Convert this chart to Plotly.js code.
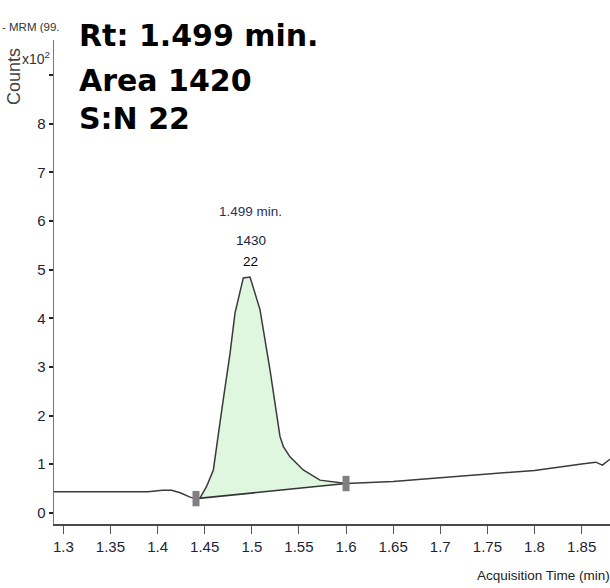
<!DOCTYPE html>
<html>
<head>
<meta charset="utf-8">
<script src="https://cdn.plot.ly/plotly-3.0.1.min.js"></script>
<style>html,body{margin:0;padding:0;background:#fff;}</style>
</head>
<body>
<div id="chart" style="width:610px;height:588px;"></div>
<script>
// Chromatogram: acquisition time (min) vs counts (x10^2)
const timeMin = [1.29, 1.30, 1.35, 1.39, 1.405, 1.415, 1.424, 1.4345, 1.4408, 1.445, 1.452, 1.4592, 1.4681, 1.4769, 1.4822, 1.4910, 1.4981, 1.5087, 1.5193, 1.5299, 1.5335, 1.5405, 1.5546, 1.5723, 1.60, 1.635, 1.65, 1.70, 1.75, 1.80, 1.85, 1.865, 1.872, 1.88];
const counts  = [0.43, 0.43, 0.43, 0.43, 0.46, 0.46, 0.41, 0.32, 0.29, 0.30, 0.54, 0.88, 2.11, 3.28, 4.11, 4.83, 4.85, 4.18, 2.94, 1.57, 1.36, 1.15, 0.88, 0.67, 0.60, 0.62, 0.64, 0.72, 0.79, 0.87, 1.00, 1.04, 0.98, 1.10];

// Integration baseline end points
const baseTime = [1.4408, 1.60];
const baseCounts = [0.29, 0.60];

// Peak labels
const peakRt = 1.499;
const peakLabels = ["1.499 min.", "1430", "22"];
const peakLabelY = [6.19, 5.61, 5.16];
const peakLabelColors = ["#1f3260", "#1a2238", "#000000"];

// Summary text
const summaryLines = ["Rt: 1.499 min.", "Area 1420", "S:N 22"];

// Axis ticks
const xTickVals = [1.3, 1.35, 1.4, 1.45, 1.5, 1.55, 1.6, 1.65, 1.7, 1.75, 1.8, 1.85];
const xTickText = ["1.3", "1.35", "1.4", "1.45", "1.5", "1.55", "1.6", "1.65", "1.7", "1.75", "1.8", "1.85"];
const yTickVals = [0, 1, 2, 3, 4, 5, 6, 7, 8];
const yTickText = ["0", "1", "2", "3", "4", "5", "6", "7", "8"];
const yUnlabelledTicks = [9];

const SANS = "Liberation Sans, Arial, sans-serif";

// Build peak fill polygon from the data between baseline end points
const fillX = [], fillY = [];
for (let i = 0; i < timeMin.length; i++) {
  if (timeMin[i] >= baseTime[0] - 1e-9 && timeMin[i] <= baseTime[1] + 1e-9) {
    fillX.push(timeMin[i]); fillY.push(counts[i]);
  }
}
fillX.push(baseTime[0]); fillY.push(baseCounts[0]);

const traces = [
  { x: fillX, y: fillY, type: 'scatter', mode: 'lines', fill: 'toself',
    fillcolor: '#dff7df', line: { width: 0 }, hoverinfo: 'skip', showlegend: false },
  { x: baseTime, y: baseCounts, type: 'scatter', mode: 'lines',
    line: { color: '#333333', width: 1.6 }, showlegend: false },
  { x: timeMin, y: counts, type: 'scatter', mode: 'lines',
    line: { color: '#3a3a3a', width: 1.5 }, showlegend: false },
  { x: baseTime, y: baseCounts, type: 'scatter', mode: 'markers',
    marker: { symbol: 'line-ns-open', size: 11, color: '#808080', line: { color: '#808080', width: 7 } },
    showlegend: false }
];

const annotations = [];
const sumY = [1.0083, 0.9153, 0.8378];
summaryLines.forEach((t, i) => {
  annotations.push({ text: '<b>' + t + '</b>', xref: 'paper', yref: 'paper',
    x: 0.042, y: sumY[i], xanchor: 'left', yanchor: 'middle', showarrow: false,
    font: { family: 'DejaVu Sans, sans-serif', size: 30, color: '#000' } });
});
peakLabels.forEach((t, i) => {
  annotations.push({ text: t, xref: 'x', yref: 'y', x: peakRt, y: peakLabelY[i],
    xanchor: 'center', yanchor: 'middle', showarrow: false,
    font: { family: SANS, size: 13.5, color: peakLabelColors[i] } });
});
annotations.push({ text: '- MRM (99.', xref: 'paper', yref: 'paper', x: -0.097, y: 1.0269,
  xanchor: 'left', yanchor: 'middle', showarrow: false,
  font: { family: SANS, size: 11.5, color: '#333' } });
annotations.push({ text: 'x10<sup>2</sup>', xref: 'paper', yref: 'paper', x: -0.0324, y: 0.963,
  xanchor: 'center', yanchor: 'middle', showarrow: false,
  font: { family: SANS, size: 14, color: '#333' } });
annotations.push({ text: 'Counts', xref: 'paper', yref: 'paper', x: -0.0719, y: 0.9236,
  xanchor: 'center', yanchor: 'middle', showarrow: false, textangle: -90,
  font: { family: SANS, size: 18, color: '#444' } });
annotations.push({ text: 'Acquisition Time (min)', xref: 'paper', yref: 'paper', x: 1.003, y: -0.1074,
  xanchor: 'right', yanchor: 'middle', showarrow: false,
  font: { family: SANS, size: 13.5, color: '#222' } });

const layout = {
  width: 610, height: 588,
  margin: { l: 54, r: 0, t: 40, b: 64, pad: 0 },
  paper_bgcolor: '#ffffff', plot_bgcolor: '#ffffff',
  showlegend: false,
  xaxis: {
    range: [1.2901, 1.8801], showgrid: false, zeroline: false,
    showline: true, linecolor: '#4a4a4a', linewidth: 2,
    ticks: 'outside', ticklen: 8, tickwidth: 1, tickcolor: '#555',
    tickvals: xTickVals, ticktext: xTickText,
    tickfont: { family: SANS, size: 15, color: '#1c2436' }
  },
  yaxis: {
    range: [-0.2325, 9.726], showgrid: false, zeroline: false,
    showline: true, linecolor: '#777', linewidth: 1.5,
    ticks: 'outside', ticklen: 4, tickwidth: 2, tickcolor: '#222',
    tickvals: yTickVals, ticktext: yTickText,
    minor: { tickvals: yUnlabelledTicks, ticks: 'outside', ticklen: 4, tickwidth: 2, tickcolor: '#222', showgrid: false },
    tickfont: { family: SANS, size: 15, color: '#1c2436' }
  },
  annotations: annotations
};

Plotly.newPlot('chart', traces, layout, { staticPlot: true, displayModeBar: false });
</script>
</body>
</html>
